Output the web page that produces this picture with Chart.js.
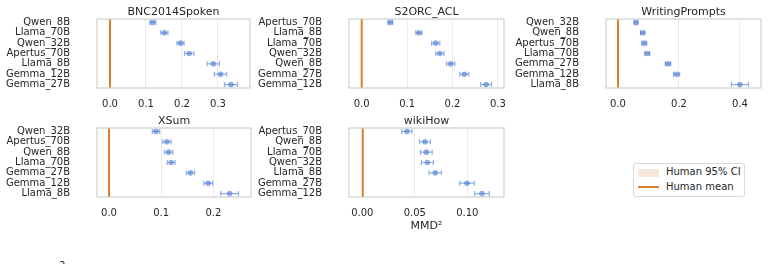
<!DOCTYPE html>
<html>

<head>
    <title>MMD2 by dataset</title>
    <script src="https://cdn.jsdelivr.net/npm/chart.js"></script>
    <style>
        body {
            margin: 0;
            background: #fff;
        }

        #fig {
            position: relative;
            width: 768px;
            height: 264px;
            overflow: hidden;
            background: #fff;
            font-family: "DejaVu Sans", sans-serif;
            color: #262626;
        }

        #fig canvas {
            position: absolute;
        }

        /* figure legend, shared by all panels */
        .legend {
            position: absolute;
            left: 633px;
            top: 163px;
            width: 110px;
            height: 32px;
            border: 1px solid #dadada;
            border-radius: 3px;
            font-size: 10px;
        }

        .legend .patch {
            position: absolute;
            left: 4px;
            top: 5px;
            width: 21px;
            height: 8px;
            background: #f8e8dc;
        }

        .legend .line {
            position: absolute;
            left: 4px;
            top: 22px;
            width: 21px;
            height: 2px;
            background: #d9802e;
        }

        .legend span {
            position: absolute;
            left: 32px;
            line-height: 12px;
        }

        .stray {
            position: absolute;
            left: 59px;
            top: 260px;
            font-size: 10px;
        }
    </style>
</head>

<body>
    <div id="fig">
        <canvas id="bnc"></canvas>
        <canvas id="s2orc"></canvas>
        <canvas id="wp"></canvas>
        <canvas id="xsum"></canvas>
        <canvas id="wiki"></canvas>
        <div class="legend">
            <div class="patch"></div><span style="top:2px">Human 95% CI</span>
            <div class="line"></div><span style="top:17px">Human mean</span>
        </div>
        <div class="stray">2</div>
    </div>

    <script>
        // values (MMD^2 and CI half-widths)
        const bncModels = ['Qwen_8B', 'Llama_70B', 'Qwen_32B', 'Apertus_70B', 'Llama_8B', 'Gemma_12B', 'Gemma_27B'];
        const bncMmd = [0.119, 0.151, 0.196, 0.220, 0.287, 0.307, 0.336];
        const bncErr = [0.008, 0.010, 0.010, 0.013, 0.017, 0.017, 0.018];
        const bncTicks = [0.0, 0.1, 0.2, 0.3];

        const s2orcModels = ['Apertus_70B', 'Llama_8B', 'Llama_70B', 'Qwen_32B', 'Qwen_8B', 'Gemma_27B', 'Gemma_12B'];
        const s2orcMmd = [0.063, 0.126, 0.163, 0.172, 0.196, 0.226, 0.274];
        const s2orcErr = [0.005, 0.007, 0.009, 0.009, 0.009, 0.010, 0.012];
        const s2orcTicks = [0.0, 0.1, 0.2, 0.3];

        const wpModels = ['Qwen_32B', 'Qwen_8B', 'Apertus_70B', 'Llama_70B', 'Gemma_27B', 'Gemma_12B', 'Llama_8B'];
        const wpMmd = [0.059, 0.081, 0.086, 0.096, 0.164, 0.192, 0.400];
        const wpErr = [0.006, 0.007, 0.008, 0.008, 0.009, 0.010, 0.028];
        const wpTicks = [0.0, 0.2, 0.4];

        const xsumModels = ['Qwen_32B', 'Apertus_70B', 'Qwen_8B', 'Llama_70B', 'Gemma_27B', 'Gemma_12B', 'Llama_8B'];
        const xsumMmd = [0.090, 0.111, 0.114, 0.119, 0.156, 0.190, 0.231];
        const xsumErr = [0.007, 0.008, 0.008, 0.0075, 0.008, 0.0086, 0.017];
        const xsumTicks = [0.0, 0.1, 0.2];

        const wikiModels = ['Apertus_70B', 'Qwen_8B', 'Llama_70B', 'Qwen_32B', 'Llama_8B', 'Gemma_27B', 'Gemma_12B'];
        const wikiMmd = [0.0425, 0.0597, 0.061, 0.062, 0.0695, 0.0997, 0.114];
        const wikiErr = [0.0048, 0.0052, 0.0056, 0.0057, 0.0059, 0.007, 0.007];
        const wikiTicks = [0.00, 0.05, 0.10];

        // human reference per panel: mean and CI half-width
        const humanMean = [0.0, 0.0, 0.0, 0.0, 0.0004];
        const humanCI = [0.001, 0.001, 0.001, 0.001, 0.0004];

        const pointColor = 'rgba(72, 120, 208, 0.6)';
        const meanColor = '#d9802e';
        const ciColor = 'rgba(221, 132, 82, 0.2)';
        const gridColor = '#ebebeb';
        const frameColor = '#cfcfcf';
        const textColor = '#262626';
        const FONT = '"DejaVu Sans", sans-serif';

        // box = [left, top, width, height] of the plot frame in the figure
        const panels = [
            { id: 'bnc', title: 'BNC2014Spoken', cats: bncModels, vals: bncMmd, errs: bncErr, ticks: bncTicks, dec: 1, min: -0.0361, max: 0.3889, box: [97, 19, 153, 69] },
            { id: 's2orc', title: 'S2ORC_ACL', cats: s2orcModels, vals: s2orcMmd, errs: s2orcErr, ticks: s2orcTicks, dec: 1, min: -0.028, max: 0.3134, box: [349, 19, 155, 69] },
            { id: 'wp', title: 'WritingPrompts', cats: wpModels, vals: wpMmd, errs: wpErr, ticks: wpTicks, dec: 1, min: -0.0393, max: 0.469, box: [606, 19, 155, 69] },
            { id: 'xsum', title: 'XSum', cats: xsumModels, vals: xsumMmd, errs: xsumErr, ticks: xsumTicks, dec: 1, min: -0.023, max: 0.272, box: [97, 128, 154, 69] },
            { id: 'wiki', title: 'wikiHow', cats: wikiModels, vals: wikiMmd, errs: wikiErr, ticks: wikiTicks, dec: 2, min: -0.0127, max: 0.135, box: [349, 128, 155, 69], xTitle: 'MMD²' }
        ];

        const Y_AXIS_W = 97;
        const TOP_PAD = 19;

        // human band/line, error bars, frame and panel title
        const panelDecor = {
            id: 'panelDecor',
            beforeDatasetsDraw(chart, args, opts) {
                const { ctx, chartArea: a, scales: { x, y } } = chart;
                ctx.save();
                ctx.beginPath();
                ctx.rect(a.left, a.top, a.width, a.height);
                ctx.clip();
                const lo = x.getPixelForValue(opts.mean - opts.ci);
                const hi = x.getPixelForValue(opts.mean + opts.ci);
                ctx.fillStyle = ciColor;
                ctx.fillRect(lo, a.top, hi - lo, a.height);
                const m = x.getPixelForValue(opts.mean);
                ctx.strokeStyle = meanColor;
                ctx.lineWidth = 2;
                ctx.beginPath();
                ctx.moveTo(m, a.top);
                ctx.lineTo(m, a.bottom);
                ctx.stroke();

                ctx.strokeStyle = pointColor;
                ctx.lineWidth = 1.2;
                opts.vals.forEach((v, i) => {
                    const l = x.getPixelForValue(v - opts.errs[i]);
                    const r = x.getPixelForValue(v + opts.errs[i]);
                    const py = y.getPixelForValue(i);
                    ctx.beginPath();
                    ctx.moveTo(l, py);
                    ctx.lineTo(r, py);
                    ctx.moveTo(l, py - 2.5);
                    ctx.lineTo(l, py + 2.5);
                    ctx.moveTo(r, py - 2.5);
                    ctx.lineTo(r, py + 2.5);
                    ctx.stroke();
                });
                ctx.restore();
            },
            afterDraw(chart, args, opts) {
                const { ctx, chartArea: a } = chart;
                ctx.save();
                ctx.strokeStyle = frameColor;
                ctx.lineWidth = 1.2;
                ctx.strokeRect(a.left, a.top, a.width, a.height);
                ctx.fillStyle = textColor;
                ctx.font = '11px ' + FONT;
                ctx.textAlign = 'center';
                ctx.textBaseline = 'alphabetic';
                ctx.fillText(opts.title, (a.left + a.right) / 2, a.top - 4);
                ctx.restore();
            }
        };

        panels.forEach((p, k) => {
            const [bl, bt, bw, bh] = p.box;
            const xAxisH = p.xTitle ? 36 : 22;
            const canvas = document.getElementById(p.id);
            canvas.width = Y_AXIS_W + bw + 3;
            canvas.height = TOP_PAD + bh + xAxisH;
            canvas.style.left = (bl - Y_AXIS_W) + 'px';
            canvas.style.top = (bt - TOP_PAD) + 'px';

            new Chart(canvas.getContext('2d'), {
                type: 'scatter',
                data: {
                    datasets: [{
                        data: p.vals.map((v, i) => ({ x: v, y: i })),
                        backgroundColor: pointColor,
                        borderWidth: 0,
                        pointRadius: 2.8,
                        pointHoverRadius: 2.8
                    }]
                },
                options: {
                    responsive: false,
                    animation: false,
                    devicePixelRatio: 1,
                    layout: { padding: { top: TOP_PAD, right: 3, left: 0, bottom: 0 } },
                    plugins: {
                        legend: { display: false },
                        tooltip: { enabled: false },
                        panelDecor: { title: p.title, vals: p.vals, errs: p.errs, mean: humanMean[k], ci: humanCI[k] }
                    },
                    scales: {
                        x: {
                            type: 'linear',
                            min: p.min,
                            max: p.max,
                            afterBuildTicks: s => { s.ticks = p.ticks.map(v => ({ value: v })); },
                            afterFit: s => {
                                s.height = xAxisH;
                                s.paddingLeft = 0;
                                s.paddingRight = 0;
                            },
                            grid: { color: gridColor, lineWidth: 1, drawTicks: false },
                            border: { display: false },
                            ticks: {
                                padding: 10,
                                color: textColor,
                                font: { family: FONT, size: 10 },
                                maxRotation: 0,
                                callback: v => Number(v).toFixed(p.dec)
                            },
                            title: {
                                display: !!p.xTitle,
                                text: p.xTitle || '',
                                color: textColor,
                                font: { family: FONT, size: 11 },
                                padding: 0
                            }
                        },
                        y: {
                            type: 'linear',
                            reverse: true,
                            min: -0.33,
                            max: p.cats.length - 1 + 0.33,
                            afterBuildTicks: s => { s.ticks = p.cats.map((c, i) => ({ value: i })); },
                            afterFit: s => {
                                s.width = Y_AXIS_W;
                                s.paddingTop = 0;
                                s.paddingBottom = 0;
                            },
                            grid: { display: false, drawTicks: false },
                            border: { display: false },
                            ticks: {
                                padding: 27,
                                color: textColor,
                                font: { family: FONT, size: 10 },
                                autoSkip: false,
                                callback: v => p.cats[v]
                            }
                        }
                    }
                },
                plugins: [panelDecor]
            });
        });
    </script>
</body>

</html>
